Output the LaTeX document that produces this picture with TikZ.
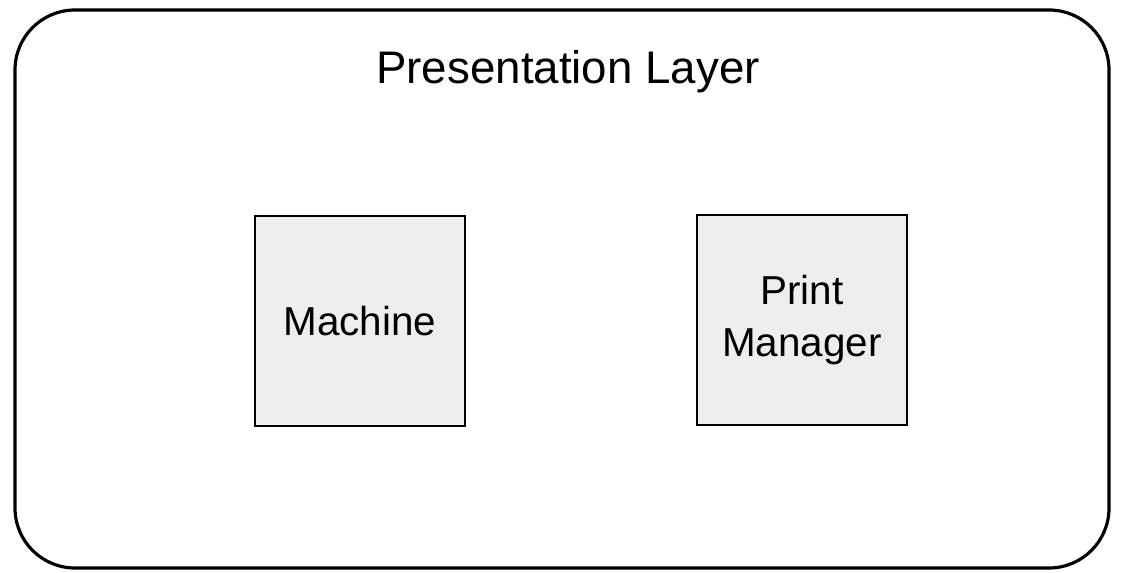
\documentclass[tikz,border=0pt]{standalone}
\usepackage{fontspec}
\setmainfont{Liberation Sans}
\definecolor{boxgray}{HTML}{EEEEEE}
\tikzset{
	layer/.style={draw, line width=1.8pt, rounded corners=1.2cm},
	component/.style={draw, line width=1.1pt, fill=boxgray, minimum width=4.2cm, minimum height=4.2cm, align=center, font=\fontsize{23}{30}\selectfont},
	title/.style={font=\fontsize{26}{30}\selectfont}
}
\begin{document}
\begin{tikzpicture}[x=0.02cm, y=-0.02cm]
	\useasboundingbox (0,0) rectangle (1122,573);
	%% Schicht
	\draw[layer] (15,10) rectangle (1109,568);
	\node[title] (layertitle) at (568,72) {Presentation Layer};

	%% Komponenten
	\node[component] (machine) at (360,321) {Machine};
	\node[component] (printmgr) at (802,320) {Print\\Manager};
\end{tikzpicture}
\end{document}
